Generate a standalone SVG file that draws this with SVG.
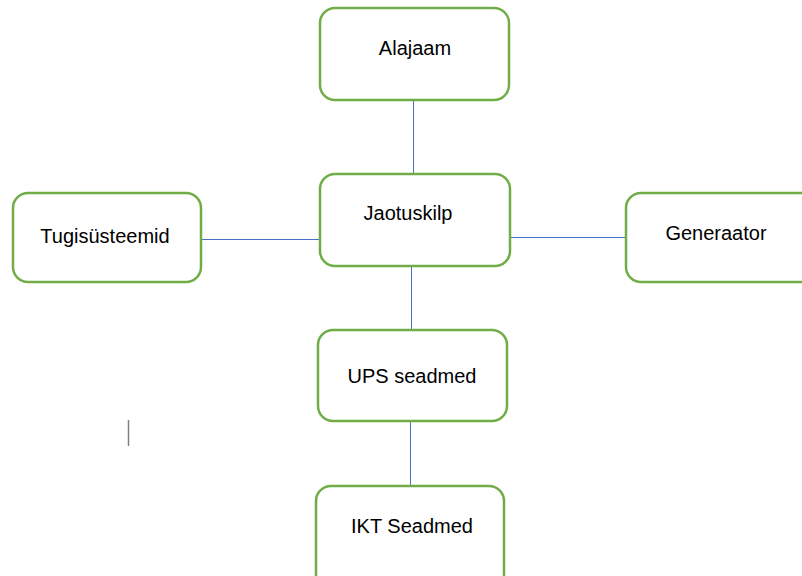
<svg xmlns="http://www.w3.org/2000/svg" width="802" height="576" viewBox="0 0 802 576">
  <style>
    .box { fill: #ffffff; stroke: #70AD47; stroke-width: 2.5; }
    .label { font-family: "Liberation Sans", Arial, sans-serif; font-size: 20px; fill: #000000; text-anchor: middle; }
    .link { stroke: #4472C4; stroke-width: 1; fill: none; }
  </style>
  <rect x="0" y="0" width="802" height="576" fill="#ffffff"/>

  <g id="connectors">
    <line class="link" x1="413.5" y1="100" x2="413.5" y2="174"/>
    <line class="link" x1="201" y1="239.5" x2="320" y2="239.5"/>
    <line class="link" x1="510" y1="237.5" x2="626" y2="237.5"/>
    <line class="link" x1="411.5" y1="266" x2="411.5" y2="330"/>
    <line class="link" x1="410.5" y1="421" x2="410.5" y2="486"/>
  </g>

  <g id="alajaam">
    <rect class="box" x="320" y="8" width="189" height="92" rx="15"/>
    <text class="label" x="415" y="55">Alajaam</text>
  </g>

  <g id="jaotuskilp">
    <rect class="box" x="320" y="174" width="190" height="92" rx="15"/>
    <text class="label" x="408" y="220">Jaotuskilp</text>
  </g>

  <g id="tugisusteemid">
    <rect class="box" x="13" y="193" width="188" height="89" rx="15"/>
    <text class="label" x="105" y="243">Tugisüsteemid</text>
  </g>

  <g id="generaator">
    <rect class="box" x="626" y="193" width="200" height="89" rx="15"/>
    <text class="label" x="716" y="240">Generaator</text>
  </g>

  <g id="ups-seadmed">
    <rect class="box" x="318" y="330" width="189" height="91" rx="15"/>
    <text class="label" x="412" y="383">UPS seadmed</text>
  </g>

  <g id="ikt-seadmed">
    <rect class="box" x="316" y="486" width="188" height="110" rx="15"/>
    <text class="label" x="412" y="533">IKT Seadmed</text>
  </g>

  <!-- text cursor mark -->
  <line x1="128.5" y1="420" x2="128.5" y2="446" stroke="#808080" stroke-width="1.5"/>
</svg>
